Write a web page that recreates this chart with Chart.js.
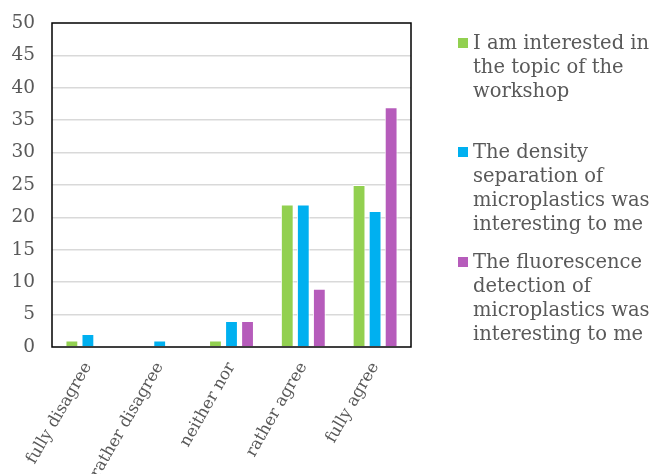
<!DOCTYPE html>
<html>
<head>
<meta charset="utf-8">
<script src="https://cdn.jsdelivr.net/npm/chart.js@4.4.1/dist/chart.umd.min.js"></script>
<style>
  body { margin: 0; background: #fff; }
  #wrap { position: relative; width: 653px; height: 474px; }
  #legend { position: absolute; left: 456px; top: 0; width: 200px; font-family: "DejaVu Serif", serif; font-size: 19.5px; line-height: 24px; color: #595959; }
  .item { position: absolute; left: 0; padding-left: 17px; width: 200px; white-space: nowrap; }
  .box { position: absolute; left: 2px; top: 7px; width: 10px; height: 10px; }
</style>
</head>
<body>
<div id="wrap">
  <canvas id="chart" width="653" height="474"></canvas>
  <div id="legend"></div>
</div>
<script>
const categories = ["fully disagree", "rather disagree", "neither nor", "rather agree", "fully agree"];
const seriesNames = [
    "I am interested in the topic of the workshop",
    "The density separation of microplastics was interesting to me",
    "The fluorescence detection of microplastics was interesting to me"
];
const interested = [1, 0, 1, 22, 25];
const density = [2, 1, 4, 22, 21];
const fluorescence = [0, 0, 4, 9, 37];
const colors = ["#92D050", "#00B0F0", "#B65CBB"];

// legend lines as in the reference, one line per row
const legendLines = [
    ["I am interested in", "the topic of the", "workshop"],
    ["The density", "separation of", "microplastics was", "interesting to me"],
    ["The fluorescence", "detection of", "microplastics was", "interesting to me"]
];
const legendTops = [31, 140, 250];

let legendBox = document.getElementById("legend");
legendLines.forEach((lines, i) => {
    let item = document.createElement("div");
    item.className = "item";
    item.style.top = legendTops[i] + "px";
    item.innerHTML = '<span class="box" style="background:' + colors[i] + '"></span>' + lines.join("<br>");
    legendBox.appendChild(item);
});

const frame = {
    id: 'frame',
    afterDatasetsDraw(chart) {
        let a = chart.chartArea;
        let ctx = chart.ctx;
        ctx.save();
        ctx.strokeStyle = "#000";
        ctx.lineWidth = 1.5;
        ctx.strokeRect(a.left, a.top, a.right - a.left, a.bottom - a.top);
        ctx.restore();
    }
};

const allValues = [interested, density, fluorescence];

new Chart(document.getElementById("chart"), {
    type: 'bar',
    data: {
        labels: categories,
        datasets: allValues.map((vals, i) => ({
            label: seriesNames[i],
            data: vals,
            backgroundColor: colors[i],
            borderColor: "#fff",
            borderWidth: 1,
            categoryPercentage: 0.67,
            barPercentage: 0.8
        }))
    },
    options: {
        responsive: false,
        animation: false,
        layout: { padding: { left: 0, top: 23, right: 242, bottom: 0 } },
        plugins: { legend: { display: false }, tooltip: { enabled: false } },
        scales: {
            x: {
                grid: { display: false, drawTicks: false },
                border: { display: false },
                ticks: {
                    color: "#595959",
                    font: { family: "DejaVu Serif", size: 16.5 },
                    maxRotation: 60, minRotation: 60,
                    padding: 12
                },
                afterFit(scale) { scale.height = 127; }
            },
            y: {
                min: 0, max: 50,
                ticks: {
                    stepSize: 5,
                    color: "#595959",
                    font: { family: "DejaVu Serif", size: 18.5 },
                    padding: 17
                },
                afterFit(scale) { scale.width = 52; scale.paddingTop = 0; },
                grid: {
                    color: ctx => (ctx.tick.value === 0 || ctx.tick.value === 50) ? "rgba(0,0,0,0)" : "#d9d9d9",
                    lineWidth: 1.5,
                    drawTicks: false
                },
                border: { display: false }
            }
        }
    },
    plugins: [frame]
});
</script>
</body>
</html>
